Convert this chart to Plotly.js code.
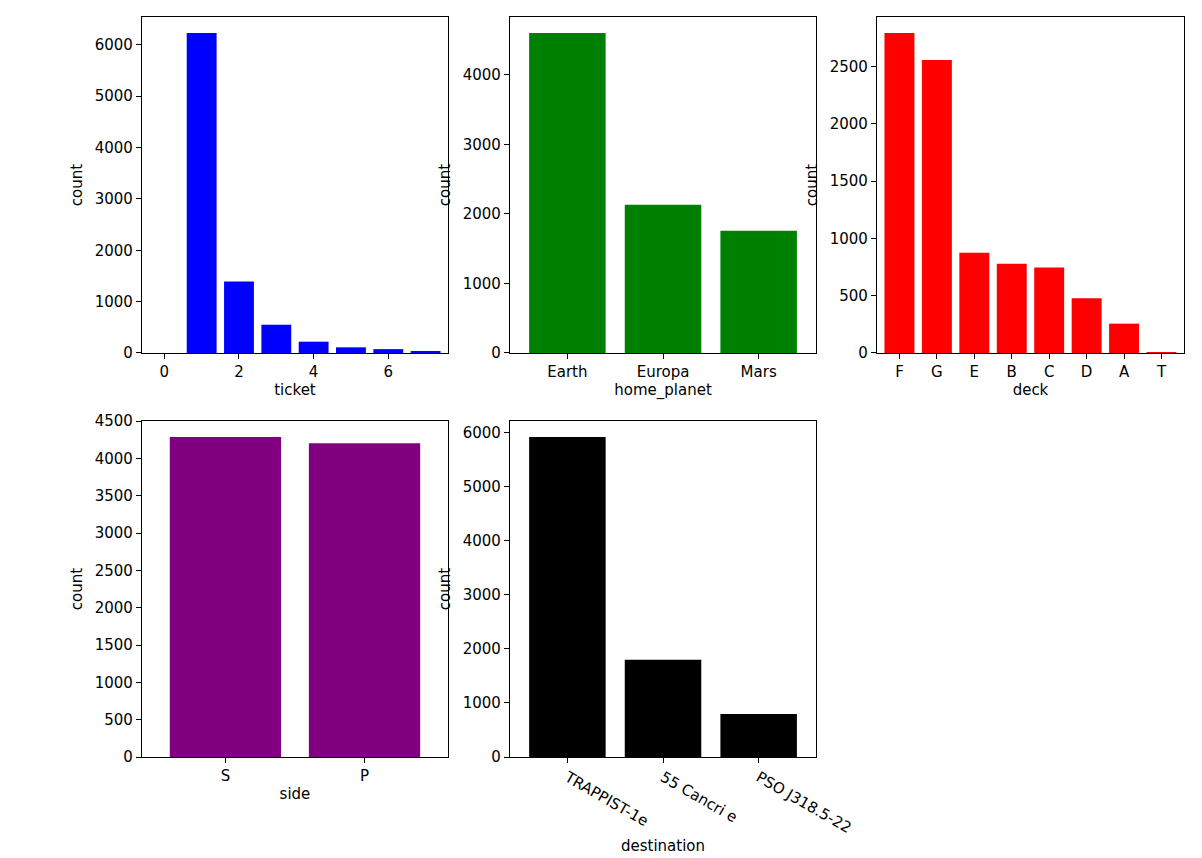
<!DOCTYPE html>
<html>
<head>
<script src="https://cdn.plot.ly/plotly-3.0.1.min.js"></script>
<style>body{margin:0;background:#fff}</style>
</head>
<body>
<div id="chart" style="width:1202px;height:858px"></div>
<script>
// values
var ticketCats = ["01","02","03","04","05","06","07","08"];
var ticketVals = [6230, 1390, 550, 220, 110, 75, 35, 10];
var planetCats = ["Earth","Europa","Mars"];
var planetVals = [4602, 2131, 1759];
var deckCats = ["F","G","E","B","C","D","A","T"];
var deckVals = [2794, 2559, 876, 779, 747, 478, 256, 5];
var sideCats = ["S","P"];
var sideVals = [4288, 4206];
var destCats = ["TRAPPIST-1e","55 Cancri e","PSO J318.5-22"];
var destVals = [5915, 1800, 796];

var panels = [
  {cats: ticketCats, vals: ticketVals, color: "blue", name: "ticket", x: [0.1181,0.3727], y: [0.5886,0.9802]},
  {cats: planetCats, vals: planetVals, color: "green", name: "home_planet", x: [0.4243,0.6789], y: [0.5886,0.9802]},
  {cats: deckCats, vals: deckVals, color: "red", name: "deck", x: [0.7296,0.985], y: [0.5886,0.9802]},
  {cats: sideCats, vals: sideVals, color: "purple", name: "side", x: [0.1181,0.3727], y: [0.1177,0.5093]},
  {cats: destCats, vals: destVals, color: "black", name: "destination", x: [0.4243,0.6789], y: [0.1177,0.5093]}
];

var font = {family: "DejaVu Sans", size: 15, color: "black"};
var data = [];
var layout = {
  width: 1202, height: 858, margin: {l: 0, r: 0, t: 0, b: 0},
  paper_bgcolor: "white", plot_bgcolor: "white", showlegend: false,
  font: font, bargap: 0.2
};

for (var k = 0; k < panels.length; k++) {
  var p = panels[k];
  var sfx = k == 0 ? "" : String(k + 1);
  data.push({type: "bar", x: p.cats, y: p.vals, marker: {color: p.color},
             xaxis: "x" + sfx, yaxis: "y" + sfx, hoverinfo: "x+y"});
  var ymax = Math.max.apply(null, p.vals) * 1.05;
  var n = p.cats.length;
  layout["xaxis" + sfx] = {
    domain: p.x, anchor: "y" + sfx, range: [-0.6, n - 0.4],
    showline: true, mirror: true, linecolor: "black", linewidth: 1.2,
    ticks: "outside", ticklen: 5, tickcolor: "black", showgrid: false,
    tickfont: font, title: {text: p.name, font: font, standoff: 4}
  };
  layout["yaxis" + sfx] = {
    domain: p.y, anchor: "x" + sfx, range: [0, ymax],
    showline: true, mirror: true, linecolor: "black", linewidth: 1.2,
    ticks: "outside", ticklen: 5, tickcolor: "black", showgrid: false, zeroline: false,
    tickfont: font, title: {text: "count", font: font, standoff: 8}
  };
}

Plotly.newPlot("chart", data, layout, {displayModeBar: false});
</script>
</body>
</html>
